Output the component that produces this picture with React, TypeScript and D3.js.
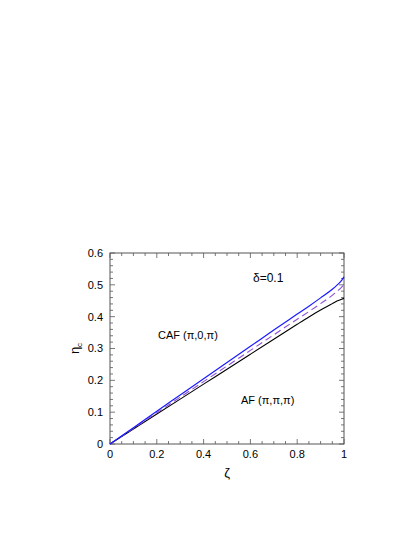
import React, { useRef, useEffect } from "react";
import * as d3 from "d3";

// zeta values sampled along the curves
const zeta = [0, 0.1, 0.2, 0.3, 0.4, 0.5, 0.6, 0.7, 0.8, 0.85, 0.9, 0.95, 0.97, 0.99, 1];
// CAF boundary (blue, solid)
const etaBlue = [0, 0.051, 0.103, 0.154, 0.205, 0.256, 0.307, 0.358, 0.408, 0.433, 0.459, 0.486, 0.499, 0.514, 0.525];
// dashed (purple)
const etaDash = [0, 0.049, 0.098, 0.147, 0.196, 0.245, 0.294, 0.343, 0.392, 0.416, 0.441, 0.467, 0.479, 0.493, 0.501];
// AF boundary (black, solid)
const etaBlack = [0, 0.047, 0.094, 0.141, 0.188, 0.235, 0.282, 0.329, 0.376, 0.399, 0.421, 0.441, 0.449, 0.455, 0.4575];

const xTicks = [0, 0.2, 0.4, 0.6, 0.8, 1];
const yTicks = [0, 0.1, 0.2, 0.3, 0.4, 0.5, 0.6];

export default function App() {
  const svgRef = useRef<SVGSVGElement>(null);

  useEffect(() => {
    const svg = d3.select(svgRef.current);
    svg.selectAll("*").remove();

    const width = 415;
    const height = 537;
    const margin = { top: 253, right: 71, bottom: 93, left: 110 };
    const innerW = width - margin.left - margin.right;
    const innerH = height - margin.top - margin.bottom;
    const font = "Liberation Sans, Arial, sans-serif";
    const axisColor = "#555";

    const g = svg.append("g").attr("transform", `translate(${margin.left},${margin.top})`);

    const x = d3.scaleLinear().domain([0, 1]).range([0, innerW]);
    const y = d3.scaleLinear().domain([0, 0.6]).range([innerH, 0]);

    // frame
    g.append("rect")
      .attr("width", innerW)
      .attr("height", innerH)
      .attr("fill", "none")
      .attr("stroke", axisColor)
      .attr("stroke-width", 1);

    // ticks (inward, all four sides)
    const xMinor = d3.range(0, 1.0001, 0.05);
    const yMinor = d3.range(0, 0.6001, 0.02);
    const tickG = g.append("g").attr("stroke", axisColor).attr("stroke-width", 0.8);
    xMinor.forEach((v, i) => {
      const len = i % 4 === 0 ? 5 : 3;
      tickG.append("line").attr("x1", x(v)).attr("x2", x(v)).attr("y1", innerH).attr("y2", innerH - len);
      tickG.append("line").attr("x1", x(v)).attr("x2", x(v)).attr("y1", 0).attr("y2", len);
    });
    yMinor.forEach((v, i) => {
      const len = i % 5 === 0 ? 5 : 3;
      tickG.append("line").attr("x1", 0).attr("x2", len).attr("y1", y(v)).attr("y2", y(v));
      tickG.append("line").attr("x1", innerW).attr("x2", innerW - len).attr("y1", y(v)).attr("y2", y(v));
    });

    // tick labels
    g.selectAll("text.xt")
      .data(xTicks)
      .join("text")
      .attr("class", "xt")
      .attr("x", (d) => x(d))
      .attr("y", innerH + 14)
      .attr("text-anchor", "middle")
      .attr("font-family", font)
      .attr("font-size", 11)
      .text((d) => d3.format("~g")(d));

    g.selectAll("text.yt")
      .data(yTicks)
      .join("text")
      .attr("class", "yt")
      .attr("x", -7)
      .attr("y", (d) => y(d))
      .attr("dy", "0.35em")
      .attr("text-anchor", "end")
      .attr("font-family", font)
      .attr("font-size", 11)
      .text((d) => d3.format("~g")(d));

    // curves
    const line = d3
      .line<number>()
      .x((_, i) => x(zeta[i]))
      .y((d) => y(d))
      .curve(d3.curveMonotoneX);

    g.append("path").attr("d", line(etaBlack)).attr("fill", "none").attr("stroke", "#000").attr("stroke-width", 1.1);
    g.append("path")
      .attr("d", line(etaDash))
      .attr("fill", "none")
      .attr("stroke", "#8a4fd6")
      .attr("stroke-width", 1.1)
      .attr("stroke-dasharray", "7,4");
    g.append("path").attr("d", line(etaBlue)).attr("fill", "none").attr("stroke", "#1a1aff").attr("stroke-width", 1.2);

    // annotations
    g.append("text")
      .attr("x", 143)
      .attr("y", 29)
      .attr("font-family", font)
      .attr("font-size", 12)
      .text("δ=0.1");
    g.append("text")
      .attr("x", 48)
      .attr("y", 86)
      .attr("font-family", font)
      .attr("font-size", 11)
      .text("CAF (π,0,π)");
    g.append("text")
      .attr("x", 131)
      .attr("y", 151)
      .attr("font-family", font)
      .attr("font-size", 11)
      .text("AF (π,π,π)");

    // axis titles
    g.append("text")
      .attr("x", innerW / 2)
      .attr("y", innerH + 33)
      .attr("text-anchor", "middle")
      .attr("font-family", font)
      .attr("font-size", 13)
      .text("ζ");

    const yl = g
      .append("text")
      .attr("transform", `translate(-31,${innerH / 2}) rotate(-90)`)
      .attr("text-anchor", "middle")
      .attr("font-family", font)
      .attr("font-size", 13);
    yl.append("tspan").text("η");
    yl.append("tspan").attr("font-size", 8).attr("dy", 3).text("c");
  }, []);

  return <svg ref={svgRef} width={415} height={537} style={{ display: "block", margin: -8 }} />;
}
